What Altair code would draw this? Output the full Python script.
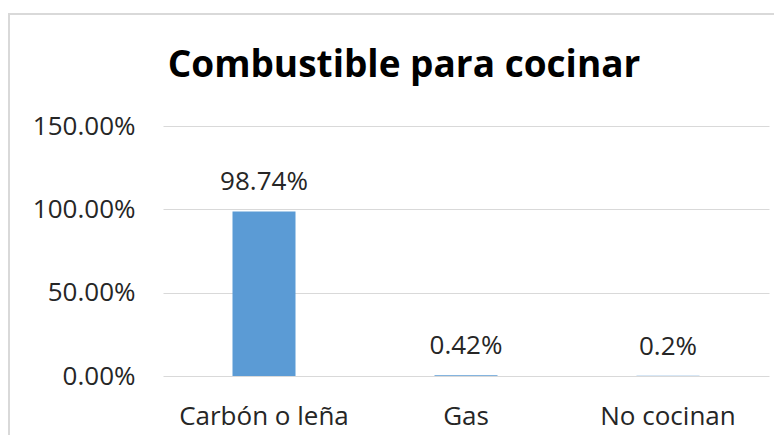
import altair as alt
import pandas as pd

categories = ["Carbón o leña", "Gas", "No cocinan"]
values = [0.9874, 0.0042, 0.002]
labels = ["98.74%", "0.42%", "0.2%"]
y_ticks = [0, 0.5, 1.0, 1.5]

df = pd.DataFrame({"cat": categories, "val": values, "lab": labels})

FONT = "Open Sans"
TXT = "#262626"

x = alt.X("cat:N", sort=categories, title=None,
          scale=alt.Scale(paddingInner=0, paddingOuter=0),
          axis=alt.Axis(labelAngle=0, domain=False, ticks=False, tickSize=0,
                        labelPadding=27, labelFontSize=26, labelFont=FONT,
                        labelColor=TXT, grid=False))
y = alt.Y("val:Q", title=None,
          scale=alt.Scale(domain=[0, 1.5]),
          axis=alt.Axis(values=y_ticks, format=".2%", domain=False, ticks=False,
                        tickSize=0, labelPadding=28, labelFontSize=26,
                        labelFont=FONT, labelColor=TXT, grid=True,
                        gridColor="#d9d9d9", gridWidth=1))

frame = alt.Chart(alt.Data(values=[{"a": 1}])).mark_rect(
    fill=None, stroke="#d9d9d9", strokeWidth=2, clip=False
).encode(
    x=alt.value(-154), x2=alt.value(700),
    y=alt.value(-112), y2=alt.value(330),
)

bars = alt.Chart(df).mark_bar(color="#5B9BD5", size=63).encode(x=x, y=y)

text = alt.Chart(df).mark_text(
    font=FONT, fontSize=26, color=TXT, baseline="alphabetic", dy=-21
).encode(x=x, y=y, text="lab:N")

chart = alt.layer(frame, bars, text).properties(
    width=606, height=250,
    autosize=alt.AutoSizeParams(type="none"),
    padding={"left": 155, "top": 118, "right": 5, "bottom": 59},
    title=alt.TitleParams("Combustible para cocinar", font=FONT, fontSize=37,
                          fontWeight="bold", color="#000000", anchor="middle",
                          baseline="alphabetic", dx=-62, offset=-101),
).configure(background="white").configure_view(strokeWidth=0, stroke="transparent")

chart.save("out.html", embed_options={"renderer": "svg", "actions": False})
